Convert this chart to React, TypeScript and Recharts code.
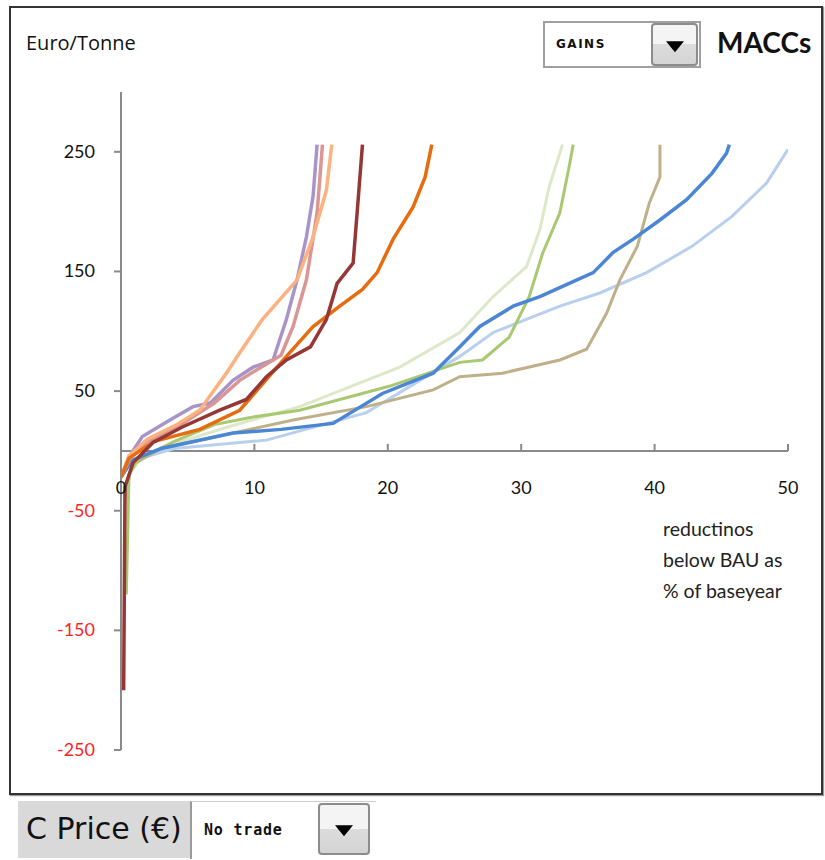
import { LineChart, Line, XAxis, YAxis, ReferenceLine } from "recharts";

// MACC curves: x = reductions below BAU (% of base year), y = Euro/Tonne
const lavender = [
  { x: 0, y: -22 }, { x: 0.6, y: -5 }, { x: 1.6, y: 12 }, { x: 3.7, y: 26 }, { x: 5.4, y: 37 },
  { x: 6.7, y: 40 }, { x: 8.4, y: 59 }, { x: 9.9, y: 70 }, { x: 11.4, y: 76 }, { x: 12.4, y: 110 },
  { x: 13.2, y: 143 }, { x: 13.9, y: 179 }, { x: 14.4, y: 213 }, { x: 14.7, y: 256 },
];
const rose = [
  { x: 0, y: -22 }, { x: 0.7, y: -6 }, { x: 2, y: 8 }, { x: 4.5, y: 22 }, { x: 7, y: 40 },
  { x: 8.9, y: 59 }, { x: 10.5, y: 70 }, { x: 12, y: 80 }, { x: 12.9, y: 104 }, { x: 13.9, y: 143 },
  { x: 14.7, y: 199 }, { x: 14.9, y: 227 }, { x: 15.1, y: 256 },
];
const peach = [
  { x: 0, y: -22 }, { x: 0.6, y: -4 }, { x: 2, y: 10 }, { x: 4.2, y: 22 }, { x: 5.9, y: 34 },
  { x: 7.9, y: 65 }, { x: 8.9, y: 82 }, { x: 10.6, y: 110 }, { x: 12.1, y: 129 }, { x: 13.2, y: 143 },
  { x: 14.4, y: 179 }, { x: 15.4, y: 218 }, { x: 15.8, y: 256 },
];
const maroon = [
  { x: 0.2, y: -200 }, { x: 0.3, y: -30 }, { x: 0.9, y: -10 }, { x: 2.4, y: 7 }, { x: 4.6, y: 20 },
  { x: 7.4, y: 34 }, { x: 9.4, y: 43 }, { x: 10.9, y: 62 }, { x: 12.4, y: 76 }, { x: 14.2, y: 87 },
  { x: 15.4, y: 110 }, { x: 16.2, y: 140 }, { x: 17.4, y: 157 }, { x: 17.7, y: 199 }, { x: 18.1, y: 256 },
];
const orange = [
  { x: 0, y: -22 }, { x: 0.6, y: -6 }, { x: 2.5, y: 8 }, { x: 5.9, y: 18 }, { x: 8.9, y: 34 },
  { x: 12.4, y: 79 }, { x: 14.4, y: 104 }, { x: 16.4, y: 121 }, { x: 18.1, y: 135 }, { x: 19.2, y: 149 },
  { x: 20.4, y: 177 }, { x: 21.9, y: 204 }, { x: 22.8, y: 229 }, { x: 23.3, y: 256 },
];
const paleGreen = [
  { x: 0.3, y: -60 }, { x: 0.6, y: -20 }, { x: 1.5, y: -6 }, { x: 4, y: 6 }, { x: 8, y: 20 },
  { x: 13.4, y: 37 }, { x: 20.9, y: 70 }, { x: 25.4, y: 99 }, { x: 27.9, y: 129 }, { x: 30.4, y: 154 },
  { x: 31.4, y: 185 }, { x: 32.1, y: 221 }, { x: 33.1, y: 256 },
];
const green = [
  { x: 0.4, y: -120 }, { x: 0.6, y: -20 }, { x: 1.2, y: -8 }, { x: 4, y: 8 }, { x: 7, y: 22 },
  { x: 9.7, y: 28 }, { x: 13.4, y: 34 }, { x: 20.1, y: 54 }, { x: 25.4, y: 74 }, { x: 27.1, y: 76 },
  { x: 29.1, y: 95 }, { x: 30.6, y: 129 }, { x: 31.6, y: 165 }, { x: 32.9, y: 199 }, { x: 33.6, y: 238 },
  { x: 33.9, y: 256 },
];
const khaki = [
  { x: 0.3, y: -40 }, { x: 0.8, y: -12 }, { x: 3, y: 2 }, { x: 8, y: 14 }, { x: 13, y: 26 },
  { x: 18.4, y: 37 }, { x: 23.4, y: 51 }, { x: 25.4, y: 62 }, { x: 28.6, y: 65 }, { x: 32.9, y: 76 },
  { x: 34.9, y: 85 }, { x: 36.4, y: 115 }, { x: 37.4, y: 143 }, { x: 38.7, y: 171 }, { x: 39.6, y: 207 },
  { x: 40.4, y: 229 }, { x: 40.4, y: 256 },
];
const blue = [
  { x: 0, y: -22 }, { x: 0.8, y: -8 }, { x: 3, y: 2 }, { x: 8.4, y: 15 }, { x: 12, y: 18 },
  { x: 15.9, y: 23 }, { x: 19.6, y: 48 }, { x: 23.4, y: 65 }, { x: 25.4, y: 87 }, { x: 26.9, y: 104 },
  { x: 29.4, y: 121 }, { x: 31.4, y: 129 }, { x: 33.6, y: 140 }, { x: 35.4, y: 149 }, { x: 36.9, y: 166 },
  { x: 38.4, y: 177 }, { x: 40.4, y: 193 }, { x: 42.4, y: 210 }, { x: 44.3, y: 232 }, { x: 45.4, y: 249 },
  { x: 45.6, y: 256 },
];
const skyBlue = [
  { x: 0, y: -22 }, { x: 0.9, y: -8 }, { x: 4, y: 2 }, { x: 10.9, y: 9 }, { x: 18.4, y: 32 },
  { x: 25.4, y: 79 }, { x: 27.9, y: 99 }, { x: 32.9, y: 121 }, { x: 35.9, y: 132 }, { x: 39.4, y: 149 },
  { x: 42.8, y: 171 }, { x: 45.8, y: 196 }, { x: 48.4, y: 224 }, { x: 50, y: 252 },
];

const series = [
  { name: "skyBlue", data: skyBlue, color: "#b9cfee", width: 3 },
  { name: "paleGreen", data: paleGreen, color: "#dde8c8", width: 3 },
  { name: "khaki", data: khaki, color: "#bfb08a", width: 3 },
  { name: "green", data: green, color: "#a9c872", width: 3 },
  { name: "blue", data: blue, color: "#4a86d4", width: 3.5 },
  { name: "lavender", data: lavender, color: "#a994c8", width: 3.5 },
  { name: "rose", data: rose, color: "#d99694", width: 3.5 },
  { name: "peach", data: peach, color: "#fbb27e", width: 3.5 },
  { name: "orange", data: orange, color: "#e66c10", width: 3.5 },
  { name: "maroon", data: maroon, color: "#953735", width: 3.5 },
];

const xTicks = [0, 10, 20, 30, 40, 50];
const yTicks = [-250, -150, -50, 50, 150, 250];
const Y_MIN = -250;
const Y_MAX = 300;

const W = 825;
const H = 860;
const XAXIS_H = 30;
const M = { top: 92, right: 37, bottom: 80, left: 61 };
const PLOT_H = H - M.top - M.bottom - XAXIS_H;
const Y_ZERO = M.top + (PLOT_H * Y_MAX) / (Y_MAX - Y_MIN);

const FONT = "Lato, 'Open Sans', sans-serif";

const YTick = (props: any) => {
  const { x, y, payload } = props;
  const v = payload.value as number;
  return (
    <text x={x} y={y} dy={6} textAnchor="end" fontFamily={FONT} fontSize={18} fill={v < 0 ? "#ff1f1f" : "#111"}>
      {v}
    </text>
  );
};

const XTick = (props: any) => {
  const { x, payload } = props;
  return (
    <g>
      <line x1={x} x2={x} y1={Y_ZERO} y2={Y_ZERO - 7} stroke="#8a8a8a" strokeWidth={2} />
      <text x={x} y={Y_ZERO + 43} textAnchor="middle" fontFamily={FONT} fontSize={18} fill="#111">
        {payload.value}
      </text>
    </g>
  );
};

const DropButton = ({ left, top, w, h }: { left: number; top: number; w: number; h: number }) => (
  <div
    style={{
      position: "absolute",
      left,
      top,
      width: w,
      height: h,
      boxSizing: "border-box",
      border: "2px solid #8c8c8c",
      borderRadius: 4,
      background: "linear-gradient(#f4f4f4, #f4f4f4 50%, #dcdcdc 50%, #d4d4d4)",
    }}
  >
    <div
      style={{
        position: "absolute",
        left: "50%",
        top: "50%",
        transform: "translate(-50%, -35%)",
        width: 0,
        height: 0,
        borderLeft: "9px solid transparent",
        borderRight: "9px solid transparent",
        borderTop: "11px solid #000",
      }}
    />
  </div>
);

export default function App() {
  return (
    <div style={{ position: "absolute", left: 0, top: 0, width: W, height: H, background: "#fff", fontFamily: FONT }}>
      <div
        style={{
          position: "absolute",
          left: 9,
          top: 6,
          width: 814,
          height: 789,
          boxSizing: "border-box",
          border: "2px solid #333",
          boxShadow: "1px 1px 1px #999",
        }}
      />
      <div style={{ position: "absolute", left: 0, top: 0 }}>
        <LineChart width={W} height={H} margin={M}>
          <XAxis
            dataKey="x"
            type="number"
            domain={[0, 50]}
            ticks={xTicks}
            height={XAXIS_H}
            axisLine={false}
            tickLine={false}
            tick={<XTick />}
            allowDataOverflow
          />
          <YAxis
            dataKey="y"
            type="number"
            domain={[Y_MIN, Y_MAX]}
            ticks={yTicks}
            width={60}
            axisLine={{ stroke: "#8a8a8a", strokeWidth: 2 }}
            tickLine={{ stroke: "#8a8a8a", strokeWidth: 2 }}
            tickSize={7}
            tickMargin={19}
            tick={<YTick />}
            allowDataOverflow
          />
          <ReferenceLine y={0} stroke="#8a8a8a" strokeWidth={2} />
          {series.map((s) => (
            <Line
              key={s.name}
              data={s.data}
              dataKey="y"
              type="linear"
              stroke={s.color}
              strokeWidth={s.width}
              dot={false}
              activeDot={false}
              isAnimationActive={false}
            />
          ))}
        </LineChart>
      </div>

      <div style={{ position: "absolute", left: 26, top: 29, fontSize: 20, color: "#111", fontFamily: "'Open Sans', sans-serif" }}>
        Euro/Tonne
      </div>

      <div
        style={{
          position: "absolute",
          left: 543,
          top: 21,
          width: 158,
          height: 47,
          boxSizing: "border-box",
          border: "2px solid #a0a0a0",
          background: "#fff",
        }}
      >
        <span
          style={{
            position: "absolute",
            left: 11,
            top: 14,
            fontFamily: "'DejaVu Sans', sans-serif",
            fontSize: 12,
            fontWeight: "bold",
            letterSpacing: 1.5,
            color: "#111",
          }}
        >
          GAINS
        </span>
      </div>
      <DropButton left={651} top={23} w={47} h={43} />
      <div style={{ position: "absolute", left: 717, top: 25, fontSize: 28, fontWeight: "bold", color: "#111" }}>
        MACCs
      </div>

      <div style={{ position: "absolute", left: 663, top: 513, fontSize: 19.5, lineHeight: "31px", color: "#222" }}>
        reductinos
        <br />
        below BAU as
        <br />% of baseyear
      </div>

      <div
        style={{
          position: "absolute",
          left: 18,
          top: 801,
          width: 172,
          height: 57,
          background: "#d9d9d9",
        }}
      >
        <span style={{ position: "absolute", left: 8, top: 10, fontSize: 30, color: "#111", fontFamily: "'DejaVu Sans', sans-serif" }}>
          C Price (€)
        </span>
      </div>
      <div
        style={{
          position: "absolute",
          left: 190,
          top: 801,
          width: 186,
          height: 58,
          boxSizing: "border-box",
          borderLeft: "2px solid #9a9a9a",
          borderTop: "1px solid #ccc",
          background: "#fff",
        }}
      >
        <span
          style={{
            position: "absolute",
            left: 12,
            top: 19,
            fontFamily: "'DejaVu Sans Mono', monospace",
            fontSize: 15,
            fontWeight: "bold",
            letterSpacing: 0.8,
            color: "#111",
          }}
        >
          No trade
        </span>
      </div>
      <DropButton left={318} top={803} w={52} h={52} />
    </div>
  );
}
